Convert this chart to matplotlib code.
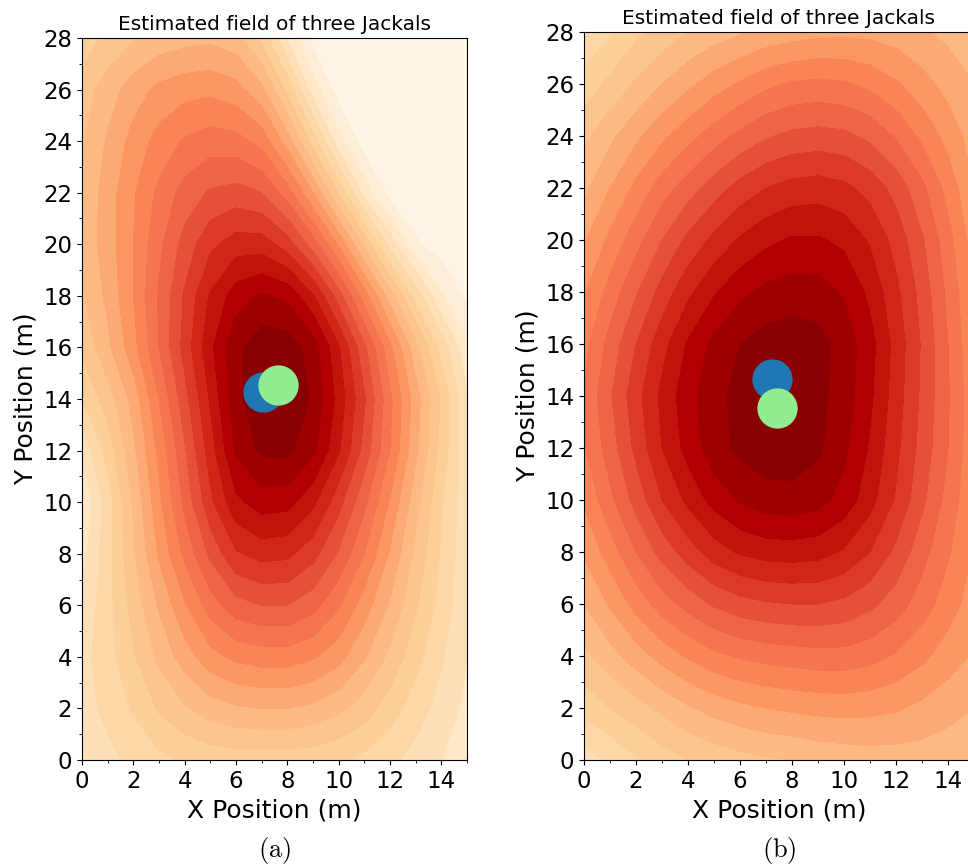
import numpy as np
import matplotlib.pyplot as plt

plt.rcParams['mathtext.fontset'] = 'cm'

# grille de lecture (m)
xs = np.arange(0, 16, 1)
ys = np.arange(0, 30, 2)

# champ estimé (a) (lignes = y de 0 à 28)
champ_a = [
    [2.7, 3.0, 3.4, 3.8, 4.1, 4.3, 4.4, 4.4, 4.4, 4.3, 4.1, 3.8, 3.4, 2.9, 2.4, 2.0],
    [2.9, 3.4, 4.1, 4.9, 5.5, 6.0, 6.3, 6.4, 6.4, 6.2, 5.8, 5.2, 4.4, 3.6, 2.9, 2.2],
    [2.9, 3.7, 4.7, 5.8, 6.8, 7.7, 8.2, 8.4, 8.4, 8.1, 7.5, 6.5, 5.4, 4.3, 3.3, 2.4],
    [2.6, 3.7, 5.1, 6.5, 7.9, 9.2, 10.1, 10.4, 10.4, 9.9, 8.9, 7.6, 6.3, 4.9, 3.7, 2.5],
    [2.1, 3.7, 5.5, 7.3, 9.0, 10.6, 11.9, 12.3, 12.2, 11.5, 10.3, 8.8, 7.1, 5.4, 3.9, 2.6],
    [1.6, 3.6, 5.7, 7.8, 9.8, 11.8, 13.4, 14.0, 13.9, 13.0, 11.5, 9.8, 7.9, 5.9, 4.1, 2.6],
    [2.6, 4.3, 6.2, 8.2, 10.3, 12.4, 14.5, 15.35, 15.4, 14.6, 12.9, 10.9, 8.8, 6.6, 4.5, 2.6],
    [4.0, 5.2, 6.7, 8.8, 10.9, 12.9, 15.0, 15.75, 15.75, 15.1, 13.3, 11.3, 9.0, 6.8, 4.7, 2.5],
    [5.0, 6.2, 7.7, 9.6, 11.5, 13.4, 15.0, 15.7, 15.65, 14.85, 12.9, 10.6, 8.2, 5.9, 3.7, 1.8],
    [5.5, 6.6, 8.0, 9.7, 11.3, 12.9, 14.0, 14.5, 14.2, 12.9, 10.8, 8.4, 6.0, 3.7, 1.7, 0.6],
    [5.8, 6.8, 8.0, 9.4, 10.7, 11.8, 12.4, 12.4, 11.6, 10.0, 7.9, 5.4, 2.9, 0.9, 0.4, 0.3],
    [5.7, 6.8, 7.9, 9.0, 9.9, 10.5, 10.7, 10.4, 9.2, 7.2, 4.7, 2.1, 0.5, 0.3, 0.3, 0.3],
    [5.5, 6.5, 7.5, 8.3, 8.9, 9.2, 9.1, 8.5, 6.8, 4.4, 1.9, 0.4, 0.3, 0.3, 0.3, 0.3],
    [5.2, 6.0, 6.8, 7.4, 7.7, 7.8, 7.5, 6.6, 4.6, 2.0, 0.4, 0.3, 0.3, 0.3, 0.3, 0.3],
    [4.3, 5.0, 5.5, 5.9, 6.1, 6.2, 5.9, 4.6, 2.3, 0.5, 0.3, 0.3, 0.3, 0.3, 0.3, 0.3],
]

# champ estimé (b)
champ_b = [
    [2.8, 3.3, 3.9, 4.4, 4.8, 5.1, 5.3, 5.5, 5.6, 5.8, 5.9, 6.0, 6.0, 6.0, 5.9, 5.8],
    [4.3, 4.8, 5.3, 5.8, 6.3, 6.7, 7.0, 7.2, 7.35, 7.45, 7.5, 7.45, 7.3, 7.0, 6.7, 6.4],
    [5.4, 6.1, 6.8, 7.5, 8.1, 8.6, 8.9, 9.1, 9.2, 9.3, 9.3, 9.1, 8.7, 8.2, 7.6, 7.1],
    [6.4, 7.3, 8.3, 9.2, 9.9, 10.5, 10.9, 11.1, 11.2, 11.2, 11.0, 10.6, 10.0, 9.2, 8.4, 7.6],
    [7.3, 8.4, 9.6, 10.7, 11.6, 12.4, 12.9, 13.15, 13.2, 13.1, 12.7, 12.0, 11.0, 9.9, 8.9, 7.9],
    [8.1, 9.4, 10.7, 12.0, 13.0, 13.9, 14.5, 14.85, 14.9, 14.7, 14.1, 13.1, 11.9, 10.6, 9.3, 8.1],
    [8.7, 10.0, 11.4, 12.8, 13.9, 14.85, 15.4, 15.7, 15.7, 15.35, 14.6, 13.5, 12.2, 10.9, 9.6, 8.2],
    [8.9, 10.3, 11.7, 13.0, 14.1, 14.96, 15.44, 15.76, 15.76, 15.44, 14.8, 13.76, 12.4, 11.04, 9.68, 8.2],
    [8.5, 9.9, 11.2, 12.5, 13.7, 14.6, 15.2, 15.55, 15.65, 15.5, 14.9, 13.9, 12.5, 11.1, 9.6, 8.1],
    [7.9, 9.1, 10.3, 11.5, 12.6, 13.5, 14.2, 14.6, 14.8, 14.75, 14.3, 13.4, 12.2, 10.9, 9.4, 7.9],
    [7.1, 8.2, 9.3, 10.4, 11.4, 12.2, 12.9, 13.4, 13.7, 13.7, 13.4, 12.7, 11.7, 10.5, 9.1, 7.6],
    [6.2, 7.2, 8.2, 9.2, 10.0, 10.8, 11.5, 12.0, 12.3, 12.4, 12.2, 11.7, 10.9, 9.8, 8.5, 7.2],
    [5.4, 6.2, 7.0, 7.8, 8.5, 9.2, 9.8, 10.3, 10.6, 10.7, 10.6, 10.2, 9.5, 8.6, 7.7, 6.8],
    [4.3, 5.0, 5.7, 6.4, 7.0, 7.6, 8.1, 8.6, 8.9, 9.0, 8.9, 8.6, 8.1, 7.5, 6.9, 6.4],
    [3.4, 3.9, 4.6, 5.1, 5.6, 6.0, 6.3, 6.6, 6.8, 6.95, 7.0, 6.95, 6.8, 6.5, 6.2, 5.9],
]

# positions des chacals (x, y)
chacal_bleu_a = (7.06, 14.28)
chacal_vert_a = (7.62, 14.54)
chacal_bleu_b = (7.23, 14.64)
chacal_vert_b = (7.42, 13.53)

# 20 bandes entre 0 et 16
niveaux = np.linspace(0, 16, 21)

fig = plt.figure(figsize=(9.68, 8.67), dpi=100)
ax_a = fig.add_axes([0.0847, 0.1234, 0.3977, 0.8328])
ax_b = fig.add_axes([0.6033, 0.1234, 0.4029, 0.8397])

paineis = [
    (ax_a, champ_a, chacal_bleu_a, chacal_vert_a, '(a)'),
    (ax_b, champ_b, chacal_bleu_b, chacal_vert_b, '(b)'),
]

for ax, champ, bleu, vert, lettre in paineis:
    ax.contourf(xs, ys, np.array(champ), levels=niveaux, cmap='OrRd')
    ax.plot(bleu[0], bleu[1], 'o', color='#1f77b4', markersize=28)
    ax.plot(vert[0], vert[1], 'o', color='lightgreen', markersize=28)
    ax.set_xlim(0, 15)
    ax.set_ylim(0, 28)
    ax.set_xticks(np.arange(0, 16, 2))
    ax.set_xticks(np.arange(0, 16, 1), minor=True)
    ax.set_yticks(np.arange(0, 29, 2))
    ax.set_yticks(np.arange(0, 29, 1), minor=True)
    ax.tick_params(labelsize=16.5)
    ax.set_title('Estimated field of three Jackals', fontsize=14.5, pad=6)
    ax.set_xlabel('X Position (m)', fontsize=18)
    ax.set_ylabel('Y Position (m)', fontsize=18)
    ax.text(0.5, -0.1247, r'$\mathrm{' + lettre + '}$', transform=ax.transAxes,
            ha='center', va='center', fontsize=19)

fig.savefig('out.png', dpi=100)
